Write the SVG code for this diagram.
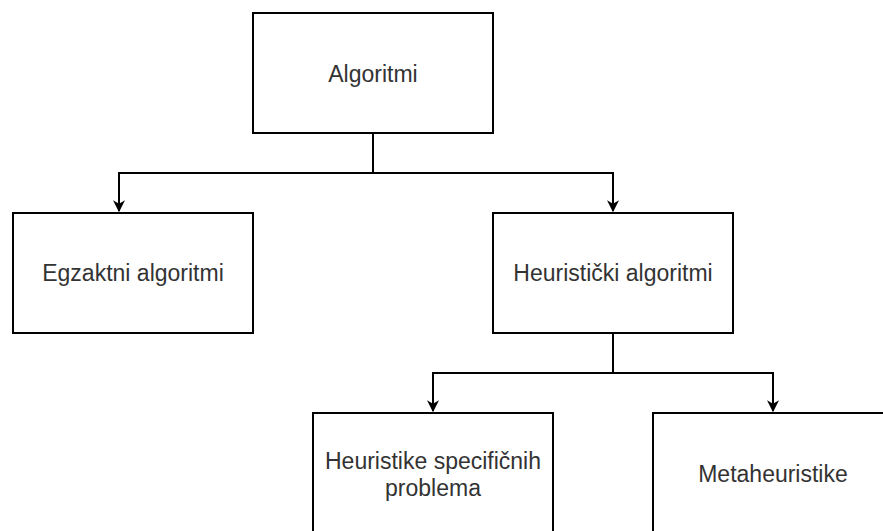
<svg xmlns="http://www.w3.org/2000/svg" width="883" height="531" viewBox="0 0 883 531">
<style>
.box{fill:#fff;stroke:#000;stroke-width:2}
.lbl{font-family:"Liberation Sans",Arial,sans-serif;font-size:23px;fill:#333;text-anchor:middle;dominant-baseline:central}
.edge{fill:none;stroke:#000;stroke-width:2}
</style>
<defs>
<marker id="arr" viewBox="0 0 10 10" refX="9" refY="5" markerWidth="6" markerHeight="6" markerUnits="strokeWidth" orient="auto">
<path d="M0,0 L10,5 L0,10 L3,5 Z" fill="#000"/>
</marker>
</defs>
<rect width="883" height="531" fill="#fff"/>
<g id="connectors">
<path class="edge" d="M373,133 V173 H119 V211" marker-end="url(#arr)"/>
<path class="edge" d="M373,173 H613 V211" marker-end="url(#arr)"/>
<path class="edge" d="M613,333 V373 H433 V411" marker-end="url(#arr)"/>
<path class="edge" d="M613,373 H773 V411" marker-end="url(#arr)"/>
</g>
<g id="n-algoritmi"><rect class="box" x="253" y="13" width="240" height="120"/><text class="lbl" x="373" y="74">Algoritmi</text></g>
<g id="n-egzaktni"><rect class="box" x="13" y="213" width="240" height="120"/><text class="lbl" x="133" y="273">Egzaktni algoritmi</text></g>
<g id="n-heuristicki"><rect class="box" x="493" y="213" width="240" height="120"/><text class="lbl" x="613" y="273">Heuristički algoritmi</text></g>
<g id="n-specificni"><rect class="box" x="313" y="413" width="240" height="130"/><text class="lbl" x="433" y="461">Heuristike specifičnih</text><text class="lbl" x="433" y="488">problema</text></g>
<g id="n-meta"><rect class="box" x="653" y="413" width="240" height="130"/><text class="lbl" x="773" y="474">Metaheuristike</text></g>
</svg>
